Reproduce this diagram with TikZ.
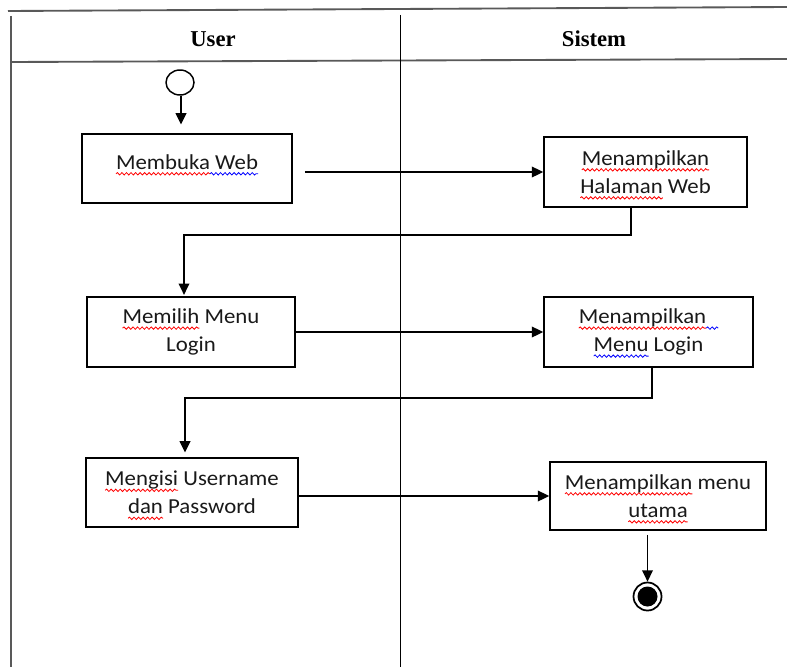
\documentclass[tikz,border=0pt]{standalone}
\usepackage{fontspec}
\setmainfont{Carlito}[FakeStretch=1.07]
\newfontfamily\headfont{Liberation Serif}
\usetikzlibrary{arrows.meta,shapes.geometric,decorations.pathmorphing}

% wavy proofing underline below a word (red: spelling, blue: grammar)
\newsavebox\wavebox
\newlength\wavewd
\newcommand\wavy[2]{%
  \sbox\wavebox{#2}\setlength\wavewd{\wd\wavebox}%
  \leavevmode\rlap{\tikz[baseline=0pt]{%
    \useasboundingbox (0pt,0pt) rectangle (\wavewd,0.1pt);
    \draw[overlay, draw=#1, line width=0.6pt, decorate,
      decoration={snake, amplitude=0.9pt, segment length=3.4pt}]
      (0pt,-3.4pt) -- (\wavewd,-3.4pt);}}%
  \usebox\wavebox}
\newcommand\redw[1]{\wavy{red}{#1}}
\newcommand\bluew[1]{\wavy{blue}{#1}}

\begin{document}
\begin{tikzpicture}[x=0.75pt,y=-0.75pt,
  lane/.style={line width=1.4pt, draw=black!65},
  divider/.style={line width=1.3pt, draw=black},
  actbox/.style 2 args={draw, line width=1.2pt, rectangle, align=center,
    inner sep=2pt, minimum width=#1*0.75pt, minimum height=#2*0.75pt,
    font=\fontsize{16}{21}\selectfont, text=black!90},
  flow/.style={-{Triangle[length=8.5pt,width=8pt]}, line width=1.05pt},
  lanehead/.style={font=\headfont\bfseries\fontsize{17}{20}\selectfont, anchor=base}
]
\useasboundingbox (0,0) rectangle (787,667);

% swimlane frame
\draw[lane] (8,11) -- (787,7);
\draw[lane] (11,62) -- (787,59);
\draw[lane] (11,16) -- (11,667);
\draw[divider] (400.5,15) -- (400.5,667);

\node[lanehead] (user) at (213,47) {User};
\node[lanehead] (sistem) at (594,47) {Sistem};

% start node
\node[ellipse, draw, line width=1.1pt, minimum width=28*0.75pt, minimum height=25*0.75pt,
      inner sep=0pt] (start) at (180,82.5) {};

% activities
\node[actbox={210}{69}, text depth=10pt] (b1) at (187,168.5)
  {\redw{Membuka}\bluew{\ Web}};
\node[actbox={203}{70}] (b2) at (645.5,172)
  {\redw{Menampilkan}\\\redw{Halaman} Web};
\node[actbox={208}{70}] (b3) at (191,332)
  {\redw{Memilih} Menu\\Login};
\node[actbox={209}{70}] (b4) at (648.5,332)
  {\redw{Menampilkan}\bluew{\phantom{n}}\\\bluew{Menu} Login};
\node[actbox={212}{69}] (b5) at (192,492.5)
  {\redw{Mengisi} Username\\\redw{dan} Password};
\node[actbox={216}{68}] (b6) at (658,496)
  {\redw{Menampilkan} menu\\\redw{utama}};

% final node
\node[circle, draw, line width=1.3pt, minimum size=28*0.75pt, inner sep=0pt]
  (end) at (647.5,596.5) {};
\node[circle, fill=black, minimum size=20*0.75pt, inner sep=0pt] (endcore) at (end) {};

% bend points of the return connectors
\coordinate (k1a) at (631,235);
\coordinate (k1b) at (184,235);
\coordinate (k2a) at (652,398);
\coordinate (k2b) at (185,398);

% flows
\draw[flow, shorten >=6.5pt] (start.south -| 181,0) -- (b1.north -| 181,0);
\draw[flow, shorten <=9pt] (b1.east |- b2.west) -- (b2.west);
\draw[flow] (b2.south -| k1a) -- (k1a) -- (k1b) -- ([yshift=1pt]k1b |- b3.north);
\draw[flow] (b3.east) -- (b4.west);
\draw[flow, shorten >=3.5pt] (b4.south -| k2a) -- (k2a) -- (k2b) -- (k2b |- b5.north);
\draw[flow] (b5.east |- b6.west) -- (b6.west);
\draw[flow, shorten <=3pt] (b6.south -| end.north) -- (end.north);
\end{tikzpicture}
\end{document}
